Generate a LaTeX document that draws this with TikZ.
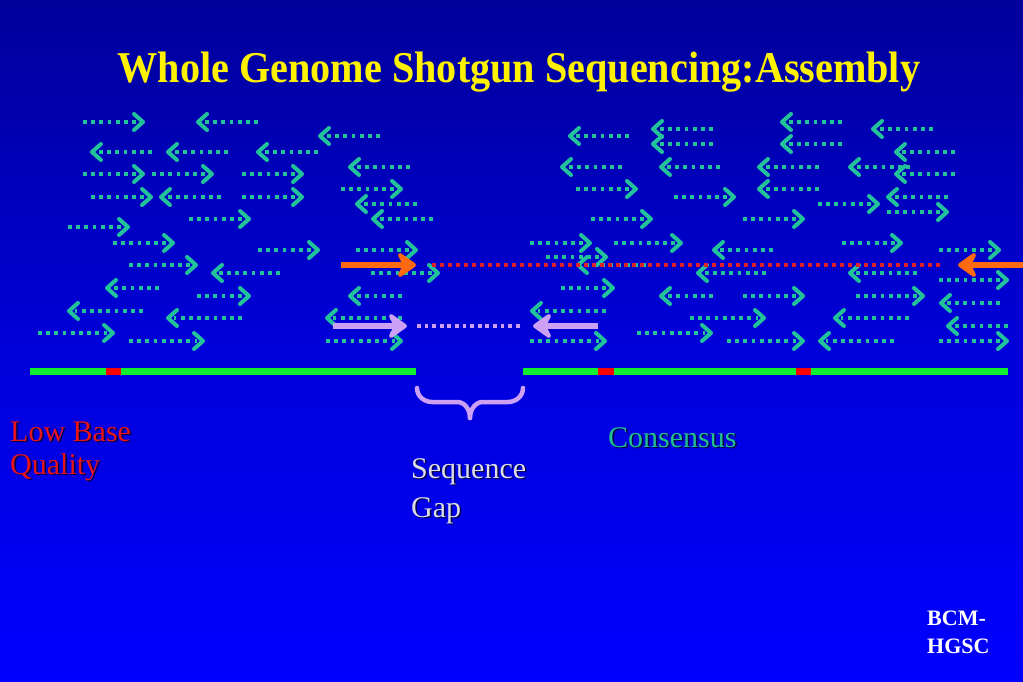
\documentclass[tikz,border=0pt]{standalone}
\usepackage{fontspec}
\setmainfont{Liberation Serif}
\definecolor{bgtop}{HTML}{00009A}
\definecolor{bgmid}{HTML}{0000D8}
\definecolor{bgbot}{HTML}{0000FF}
\definecolor{fraggreen}{HTML}{22C39A}
\definecolor{orangearr}{HTML}{FF6A10}
\definecolor{lav}{HTML}{CCA0F5}
\definecolor{reddot}{HTML}{E0202A}
\definecolor{consgreen}{HTML}{10F030}
\definecolor{lowred}{HTML}{FF0000}
\definecolor{lowtext}{HTML}{E8141C}
\definecolor{constext}{HTML}{20C090}
\definecolor{seqtext}{HTML}{DCDCE6}
\definecolor{shadowc}{HTML}{000048}
\tikzset{
  fragdots/.style={fraggreen, line width=3.8pt, dash pattern=on 3.8pt off 4.4pt},
  fraghead/.style={fraggreen, line width=4pt, line join=round, line cap=round},
  bigshaft/.style={line width=6.5pt},
  bighead/.style={line width=4pt, line join=round, line cap=round},
  reddots/.style={reddot, line width=4pt, dash pattern=on 4pt off 4pt},
  lavdots/.style={lav, line width=3.8pt, dash pattern=on 3.8pt off 3.8pt},
  consline/.style={consgreen, line width=7pt},
  lowseg/.style={lowred, line width=7pt},
  bracestyle/.style={lav, line width=4.5pt, line cap=round},
  label30/.style={font=\fontsize{30}{30}\selectfont, anchor=base west, inner sep=0pt},
  shadowtxt/.style={text=shadowc},
}
\newcommand{\fragR}[3]{%
  \draw[fragdots] (#1,#3) -- (#2-6,#3);
  \draw[fraghead] (#2-9,#3-8) -- (#2,#3) -- (#2-9,#3+8);}
\newcommand{\fragL}[3]{%
  \draw[fragdots] (#2,#3) -- (#1+6,#3);
  \draw[fraghead] (#1+9,#3-8) -- (#1,#3) -- (#1+9,#3+8);}
% big arrow: color, start coord name, tip coord name, direction (+1 right, -1 left)
\newcommand{\bigarrow}[4]{%
  \draw[bigshaft, #1] (#2) -- ([shift={(-6*#4,0)}]#3);
  \filldraw[bighead, #1] ([shift={(-14*#4,-10)}]#3) -- (#3) -- ([shift={(-14*#4,10)}]#3) -- ([shift={(-9*#4,0)}]#3) -- cycle;}
\begin{document}
\begin{tikzpicture}[x=1pt,y=-1pt]
\useasboundingbox (0,0) rectangle (1023,682);
\fill[top color=bgtop, bottom color=bgbot, middle color=bgmid] (0,0) rectangle (1023,682);
% title
\node[font=\bfseries\fontsize{44}{44}\selectfont, text=yellow, anchor=base, inner sep=0pt, xscale=0.913] (title) at (519,83) {Whole Genome Shotgun Sequencing:Assembly};
% right-pointing fragments
\foreach \a/\b/\c in {83/143/122, 83/143/174, 152/212/174, 242/302/174, 341/401/189,
  91/151/197, 242/302/197, 189/249/219, 68/128/227, 113/173/243, 258/318/250,
  356/416/250, 129/196/265, 371/438/273, 197/249/296, 38/113/333, 129/203/341,
  326/401/341, 576/636/189, 674/734/197, 818/878/204, 887/947/212, 591/651/219,
  743/803/219, 530/590/243, 614/681/243, 842/901/243, 939/999/250, 546/606/257,
  939/1007/280, 561/613/288, 743/803/296, 856/923/296, 690/764/318, 637/711/333,
  530/605/341, 727/803/341, 939/1007/341}
  {\fragR{\a}{\b}{\c}}
% left-pointing fragments
\foreach \a/\b/\c in {198/258/122, 320/380/136, 92/152/152, 168/228/152, 258/318/152,
  350/410/167, 161/221/197, 357/417/204, 373/433/219, 213/280/273, 107/159/288,
  350/402/296, 69/143/311, 168/242/318, 327/402/318, 782/842/122, 653/713/129,
  873/933/129, 570/629/136, 653/713/144, 782/842/144, 896/955/152, 562/622/167,
  661/720/167, 759/819/167, 850/910/167, 896/955/174, 759/819/189, 888/948/197,
  714/773/250, 578/646/265, 698/766/273, 850/917/273, 661/713/296, 941/1000/303,
  532/606/311, 835/909/318, 948/1008/326, 820/894/341}
  {\fragL{\a}{\b}{\c}}
% red dotted link and orange arrows
\coordinate (ro1) at (341,265);
\coordinate (ro2) at (414,265);
\coordinate (rd1) at (432,265);
\coordinate (rd2) at (944,265);
\coordinate (lo1) at (1023,265);
\coordinate (lo2) at (960,265);
\draw[reddots] (rd1) -- (rd2);
\bigarrow{orangearr}{ro1}{ro2}{1}
\bigarrow{orangearr}{lo1}{lo2}{-1}
% lavender arrows and dotted gap
\coordinate (lr1) at (333,326);
\coordinate (lr2) at (405,326);
\coordinate (ll1) at (598,326);
\coordinate (ll2) at (535,326);
\coordinate (ld1) at (417,326);
\coordinate (ld2) at (521,326);
\draw[lavdots] (ld1) -- (ld2);
\bigarrow{lav}{lr1}{lr2}{1}
\bigarrow{lav}{ll1}{ll2}{-1}
% consensus lines
\coordinate (c1a) at (30,371);
\coordinate (c1b) at (416,371);
\coordinate (c2a) at (523,371);
\coordinate (c2b) at (1008,371);
\draw[consline] (c1a) -- (c1b);
\draw[consline] (c2a) -- (c2b);
\draw[lowseg] (106,371) -- (121,371);
\draw[lowseg] (598,371) -- (614,371);
\draw[lowseg] (796,371) -- (811,371);
% brace
\draw[bracestyle] (417,388) to[out=-90,in=180] (432,402) -- (457,402) to[out=0,in=90] (470,418);
\draw[bracestyle] (470,418) to[out=90,in=180] (483,402) -- (508,402) to[out=0,in=-90] (523,388);
% labels with shadows
\node[label30, shadowtxt] at (11.5,442.5) {Low Base};
\node[label30, shadowtxt] at (11.5,475.5) {Quality};
\node[label30, text=lowtext] (low1) at (10,441) {Low Base};
\node[label30, text=lowtext] (low2) at (10,474) {Quality};
\node[label30, shadowtxt] at (609.5,448.5) {Consensus};
\node[label30, text=constext] (cons) at (608,447) {Consensus};
\node[label30, shadowtxt] at (412.5,479.5) {Sequence};
\node[label30, shadowtxt] at (412.5,518.5) {Gap};
\node[label30, text=seqtext] (seq1) at (411,478) {Sequence};
\node[label30, text=seqtext] (seq2) at (411,517) {Gap};
\node[font=\bfseries\fontsize{22}{22}\selectfont, text=white, anchor=base west, inner sep=0pt] (bcm1) at (927,625) {BCM-};
\node[font=\bfseries\fontsize{22}{22}\selectfont, text=white, anchor=base west, inner sep=0pt] (bcm2) at (927,653) {HGSC};
\end{tikzpicture}
\end{document}
